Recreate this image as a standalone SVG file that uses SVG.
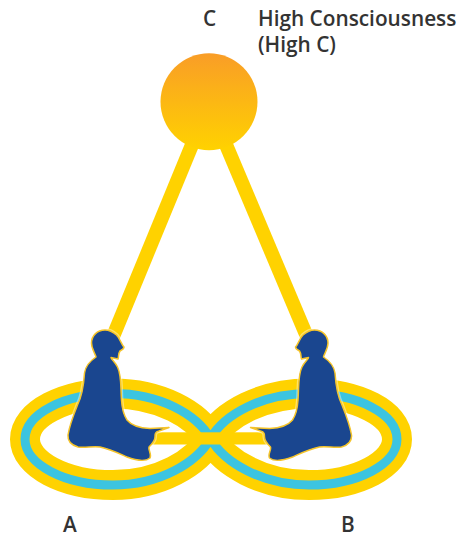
<svg xmlns="http://www.w3.org/2000/svg" width="461" height="538" viewBox="0 0 461 538">
  <style>
    .label { font-family: "Open Sans", "Liberation Sans", sans-serif; font-size: 20.8px; font-weight: 600; fill: #333333; }
    .beam { stroke: #ffd200; stroke-width: 14; fill: none; }
    .loop { fill: none; stroke-linejoin: round; }
    .halo { fill: none; stroke: #ffffff; stroke-width: 4; stroke-opacity: 0.4; stroke-linejoin: round; }
    .body { fill: #1a468f; stroke: #f5c42a; stroke-width: 1.5; stroke-linejoin: round; }
  </style>
  <defs>
    <linearGradient id="sunFill" x1="0" y1="0" x2="0" y2="1">
      <stop offset="0" stop-color="#f99d27"/>
      <stop offset="1" stop-color="#ffd200"/>
    </linearGradient>
    <path id="loopLine" d="M210.5 438.5C197 414.5 160 393.5 113 393.5C64 393.5 25 414 25 439.25C25 464 64 485 113 485C160 485 197 462.5 210.5 438.5C224 414.5 262 393.5 309 393.5C358 393.5 397 414 397 439.25C397 464 358 485 309 485C262 485 224 462.5 210.5 438.5Z"/>
    <path id="sitter" d="M105 330C97 330 91.500 336 91.500 343C91.500 349 95 353 96 357C90 361 85.500 366 84.500 373C83.500 388 81.500 397 77.500 405C73.500 415 69.500 425 68 435C67.500 441 71 445 78 447C85 448 93 446 100 447C110 449 118 453 127 457C135 460 145 462 150 458C152 454 148 450 149 447C152 444 155 441 155 437C155 434 155 432 159 431L169 427.500L150 428.500C140 428 131 425 127 420C123 414 122 408 121.500 400C120.500 385 121.500 375 117.500 367C115 362 111 359 111 357.500L118 359C119 356 118 354 120 351C122 350 124 348 124 347C121 344 120.500 339 116.500 335C113 332 109 330 105 330Z"/>
  </defs>

  <!-- connectors -->
  <g id="connectors">
    <line class="beam" x1="194" y1="140" x2="111.6" y2="340"/>
    <line class="beam" x1="224" y1="140" x2="308.4" y2="340"/>
  </g>

  <!-- figure-eight ring -->
  <g id="ring">
    <use href="#loopLine" class="loop" stroke="#ffd200" stroke-width="30"/>
    <use href="#loopLine" class="loop" stroke="#3cc4e0" stroke-width="9"/>
    <rect x="150" y="432.3" width="122" height="12.2" fill="#ffd200"/>
  </g>

  <g id="node-c">
    <circle cx="209" cy="101.7" r="48.5" fill="url(#sunFill)"/>
    <text class="label" x="203" y="26">C</text>
  </g>

  <g id="node-high-c">
    <text class="label" x="258" y="26">High Consciousness</text>
    <text class="label" x="258" y="52">(High C)</text>
  </g>

  <g id="node-a">
    <use href="#sitter" class="halo"/>
    <use href="#sitter" class="body"/>
    <text class="label" x="63" y="532">A</text>
  </g>

  <g id="node-b">
    <g transform="translate(419.5 0) scale(-1 1)">
      <use href="#sitter" class="halo"/>
      <use href="#sitter" class="body"/>
    </g>
    <text class="label" x="341" y="532">B</text>
  </g>
</svg>
